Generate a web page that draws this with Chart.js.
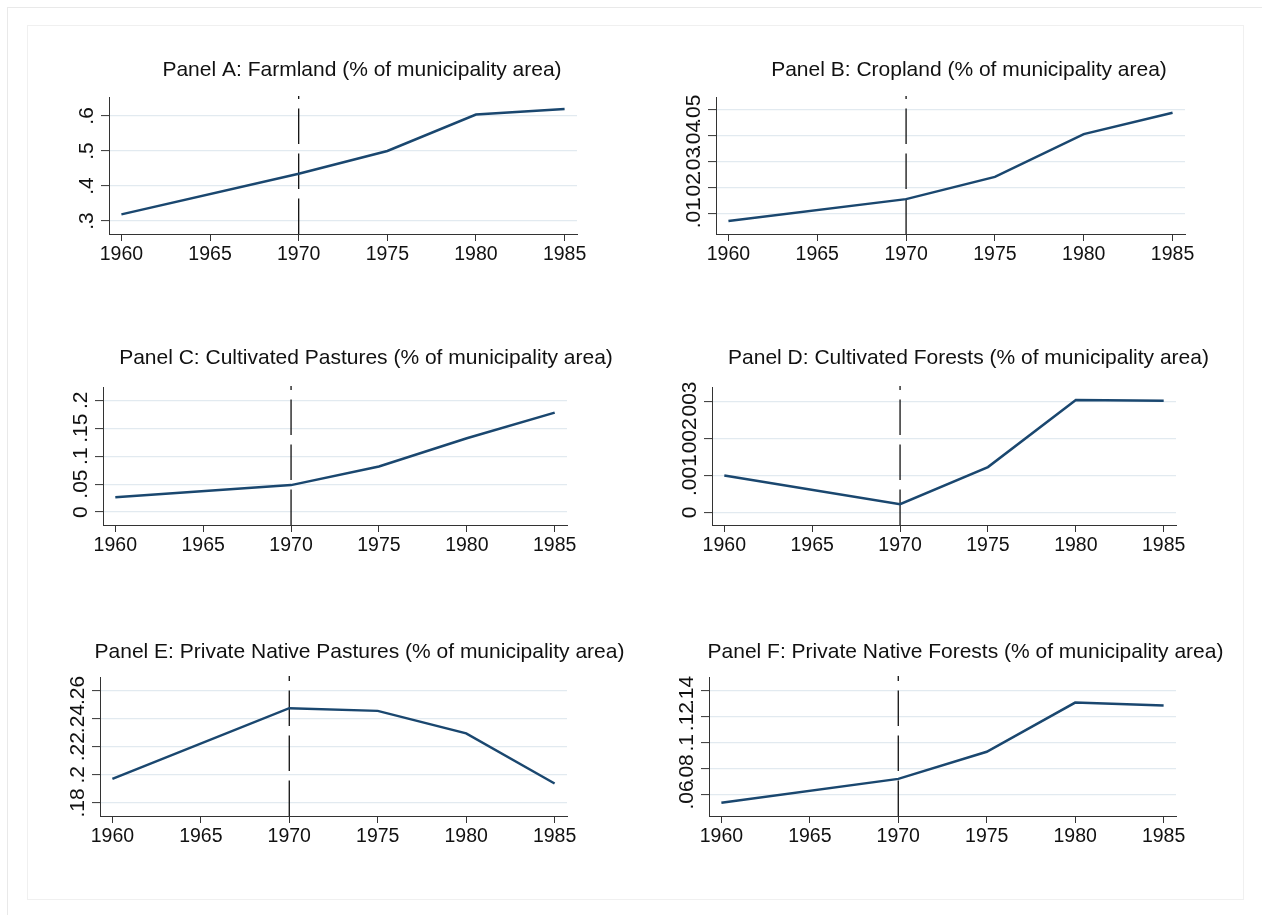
<!DOCTYPE html>
<html>
<head>
<meta charset="utf-8">
<script src="https://cdn.jsdelivr.net/npm/chart.js@4/dist/chart.umd.min.js"></script>
<style>
html, body { margin:0; padding:0; background:#fff; overflow:hidden; width:1262px; height:915px; }
#outer { position:absolute; left:7px; top:7px; width:1262px; height:920px; border:1px solid #e9e9e9; box-sizing:border-box; }
#inner { position:absolute; left:27px; top:25px; width:1217px; height:875px; border:1px solid #f0f0f0; box-sizing:border-box; }
canvas { position:absolute; }
</style>
</head>
<body>
<div id="outer"></div>
<div id="inner"></div>
<canvas id="cA"></canvas><canvas id="cB"></canvas>
<canvas id="cC"></canvas><canvas id="cD"></canvas>
<canvas id="cE"></canvas><canvas id="cF"></canvas>
<script>
// ---- data ----
const years = [1960, 1970, 1975, 1980, 1985];
const xTicks = [1960, 1965, 1970, 1975, 1980, 1985];
const eventYear = 1970;

const titles = [
  'Panel A: Farmland (% of municipality area)',
  'Panel B: Cropland (% of municipality area)',
  'Panel C: Cultivated Pastures (% of municipality area)',
  'Panel D: Cultivated Forests (% of municipality area)',
  'Panel E: Private Native Pastures (% of municipality area)',
  'Panel F: Private Native Forests (% of municipality area)'
];

const farmland       = [0.319, 0.435, 0.500, 0.604, 0.620];
const cropland       = [0.0072, 0.0156, 0.0241, 0.0405, 0.0487];
const cultPastures   = [0.0263, 0.0482, 0.0816, 0.132, 0.178];
const cultForests    = [0.00100, 0.00022, 0.00123, 0.00305, 0.00303];
const nativePastures = [0.1971, 0.2474, 0.2455, 0.2295, 0.1938];
const nativeForests  = [0.0541, 0.0723, 0.0931, 0.1307, 0.1284];

const yTicksA = [0.3, 0.4, 0.5, 0.6];           const yLabelsA = ['.3', '.4', '.5', '.6'];
const yTicksB = [0.01, 0.02, 0.03, 0.04, 0.05]; const yLabelsB = ['.01', '.02', '.03', '.04', '.05'];
const yTicksC = [0, 0.05, 0.1, 0.15, 0.2];      const yLabelsC = ['0', '.05', '.1', '.15', '.2'];
const yTicksD = [0, 0.001, 0.002, 0.003];       const yLabelsD = ['0', '.001', '.002', '.003'];
const yTicksE = [0.18, 0.2, 0.22, 0.24, 0.26];  const yLabelsE = ['.18', '.2', '.22', '.24', '.26'];
const yTicksF = [0.06, 0.08, 0.1, 0.12, 0.14];  const yLabelsF = ['.06', '.08', '.1', '.12', '.14'];

// ---- layout / style ----
const FONT = '"Liberation Sans", Arial, Helvetica, sans-serif';
const NAVY = '#1a476f';
const AXIS = '#333333';
const GRID = '#e2eaf0';
const TEXT = '#111111';
const X_MIN = 1959.3, X_MAX = 1985.7;
const Y_AXIS_W = 30, X_AXIS_H = 40, PAD_L = 15, PAD_R = 90, PAD_T = 50;

const panels = [
  { id:'cA', title:titles[0], values:farmland,       yTicks:yTicksA, yLabels:yLabelsA, yMin:0.263,     yMax:0.654,
    plot:{l:109, t:97,  r:577,  b:234}, titleX:362,   titleY:70 },
  { id:'cB', title:titles[1], values:cropland,       yTicks:yTicksB, yLabels:yLabelsB, yMin:0.00225,   yMax:0.0547,
    plot:{l:716, t:97,  r:1185, b:234}, titleX:969,   titleY:70 },
  { id:'cC', title:titles[2], values:cultPastures,   yTicks:yTicksC, yLabels:yLabelsC, yMin:-0.0232,   yMax:0.2238,
    plot:{l:103, t:387, r:567,  b:525}, titleX:366,   titleY:358 },
  { id:'cD', title:titles[3], values:cultForests,    yTicks:yTicksD, yLabels:yLabelsD, yMin:-0.000344, yMax:0.003406,
    plot:{l:712, t:387, r:1176, b:525}, titleX:968.5, titleY:358 },
  { id:'cE', title:titles[4], values:nativePastures, yTicks:yTicksE, yLabels:yLabelsE, yMin:0.1707,    yMax:0.2696,
    plot:{l:100, t:677, r:567,  b:816}, titleX:359.5, titleY:652 },
  { id:'cF', title:titles[5], values:nativeForests,  yTicks:yTicksF, yLabels:yLabelsF, yMin:0.0439,    yMax:0.1503,
    plot:{l:709, t:677, r:1176, b:816}, titleX:965.5, titleY:652 }
];

const stataDecor = {
  id: 'stataDecor',
  beforeDatasetsDraw(chart, args, opts) {
    const { ctx, chartArea, scales } = chart;
    const px = scales.x.getPixelForValue(eventYear);
    ctx.save();
    ctx.strokeStyle = '#111';
    ctx.lineWidth = 1.3;
    ctx.setLineDash([35.5, 9.5]);
    ctx.beginPath();
    ctx.moveTo(px, chartArea.bottom);
    ctx.lineTo(px, chartArea.top - 1);
    ctx.stroke();
    ctx.restore();
  },
  afterDraw(chart, args, opts) {
    const { ctx, scales } = chart;
    const y = scales.y;
    ctx.save();
    // panel title
    ctx.font = '21px ' + FONT;
    ctx.fillStyle = TEXT;
    ctx.textAlign = 'center';
    ctx.textBaseline = 'middle';
    ctx.fillText(opts.title, opts.titleX, opts.titleY);
    // rotated y tick labels
    ctx.font = '21px ' + FONT;
    opts.values.forEach((v, i) => {
      const py = y.getPixelForValue(v);
      ctx.save();
      ctx.translate(y.right - opts.offset, py);
      ctx.rotate(-Math.PI / 2);
      ctx.fillText(opts.labels[i], 0, 0);
      ctx.restore();
    });
    ctx.restore();
  }
};

panels.forEach(p => {
  const left = p.plot.l - Y_AXIS_W - PAD_L;
  const top = p.plot.t - PAD_T;
  const width = p.plot.r + PAD_R - left;
  const height = p.plot.b + X_AXIS_H - top;
  const cv = document.getElementById(p.id);
  cv.width = width; cv.height = height;
  cv.style.left = left + 'px'; cv.style.top = top + 'px';
  cv.style.width = width + 'px'; cv.style.height = height + 'px';
  new Chart(cv.getContext('2d'), {
    type: 'line',
    data: {
      datasets: [{
        data: years.map((yr, i) => ({ x: yr, y: p.values[i] })),
        borderColor: NAVY,
        borderWidth: 2.5,
        pointRadius: 0,
        tension: 0,
        fill: false
      }]
    },
    options: {
      responsive: false,
      animation: false,
      devicePixelRatio: 1,
      layout: { padding: { left: PAD_L, right: PAD_R, top: PAD_T, bottom: 0 } },
      plugins: {
        legend: { display: false },
        tooltip: { enabled: false },
        title: { display: false },
        stataDecor: {
          values: p.yTicks, labels: p.yLabels, offset: 22,
          title: p.title, titleX: p.titleX - left, titleY: p.titleY - top
        }
      },
      scales: {
        x: {
          type: 'linear',
          min: X_MIN, max: X_MAX,
          afterBuildTicks: s => { s.ticks = xTicks.map(v => ({ value: v })); },
          afterFit: s => { s.height = X_AXIS_H; },
          ticks: {
            autoSkip: false, maxRotation: 0, minRotation: 0, padding: 2,
            color: TEXT,
            font: { family: FONT, size: 19.5 },
            callback: v => String(v)
          },
          grid: { drawOnChartArea: false, drawTicks: true, tickLength: 7, tickColor: AXIS, tickWidth: 1 },
          border: { display: true, color: AXIS, width: 1 }
        },
        y: {
          type: 'linear',
          min: p.yMin, max: p.yMax,
          afterBuildTicks: s => { s.ticks = p.yTicks.map(v => ({ value: v })); },
          afterFit: s => { s.width = Y_AXIS_W; },
          ticks: { display: false },
          grid: { color: GRID, lineWidth: 1.2, drawTicks: true, tickLength: 8, tickColor: AXIS, tickWidth: 1 },
          border: { display: true, color: AXIS, width: 1 }
        }
      }
    },
    plugins: [stataDecor]
  });
});
</script>
</body>
</html>
